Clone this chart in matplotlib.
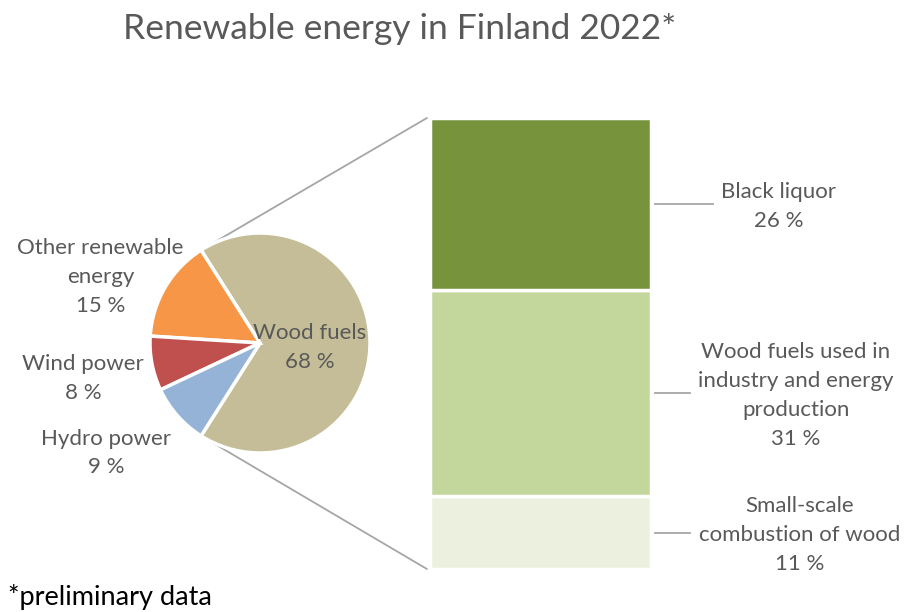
import matplotlib
matplotlib.use("Agg")
import matplotlib.pyplot as plt
import numpy as np
from matplotlib.patches import ConnectionPatch

# Shares of renewable energy sources, 2022 (%)
pie_labels = ["Wood fuels", "Other renewable\nenergy", "Wind power", "Hydro power"]
pie_values = [68, 15, 8, 9]
pie_colors = ["#C4BD97", "#F79646", "#C0504D", "#95B3D7"]

# Breakdown of wood fuels, bottom to top (%)
wood_labels = ["Small-scale\ncombustion of wood",
               "Wood fuels used in\nindustry and energy\nproduction",
               "Black liquor"]
wood_values = [11, 31, 26]
wood_colors = ["#EBF1DE", "#C3D69B", "#77933C"]

title = "Renewable energy in Finland 2022*"
footnote = "*preliminary data"

plt.rcParams["font.family"] = ["Lato", "DejaVu Sans"]
text_gray = "#595959"
line_gray = "#A6A6A6"

W, H = 905, 612
fig = plt.figure(figsize=(W / 100, H / 100), dpi=100)


def px_axes(x0, y0, x1, y1):
    # axes placed by pixel box (top-left origin)
    return fig.add_axes([x0 / W, 1 - y1 / H, (x1 - x0) / W, (y1 - y0) / H])


# Pie
ax_pie = px_axes(150, 233, 370, 453)
half = pie_values[0] / 100 * 360 / 2
wedges, _ = ax_pie.pie(pie_values, colors=pie_colors, startangle=-half,
                       counterclock=True,
                       wedgeprops=dict(edgecolor="white", linewidth=2.5))
ax_pie.set_xlim(-1, 1)
ax_pie.set_ylim(-1, 1)

label_pos = [(0.45, -0.04), (-1.45, 0.60), (-1.61, -0.32), (-1.40, -1.00)]
for name, val, (lx, ly) in zip(pie_labels, pie_values, label_pos):
    ax_pie.text(lx, ly, f"{name}\n{val} %", ha="center", va="center",
                fontsize=16, color=text_gray, linespacing=1.55)

# Stacked bar of wood fuels
ax_bar = px_axes(430, 118, 651, 569)
bottom = 0
bar_label_x = [1.174, 1.156, 1.079]
leader_end = [0.676, 0.676, 0.78]
for name, val, col, tx, lend in zip(wood_labels, wood_values, wood_colors,
                                    bar_label_x, leader_end):
    ax_bar.bar(0, val, width=1, bottom=bottom, color=col,
               edgecolor="white", linewidth=2.5)
    mid = bottom + val / 2
    ax_bar.plot([0.518, lend], [mid, mid], color=line_gray, lw=1.3,
                clip_on=False)
    ax_bar.text(tx, mid - 0.35, f"{name}\n{val} %", ha="center", va="center",
                fontsize=16, color=text_gray, linespacing=1.55)
    bottom += val
ax_bar.set_xlim(-0.5, 0.5)
ax_bar.set_ylim(0, sum(wood_values))
ax_bar.axis("off")

# Lines joining the wood fuels slice to the bar
theta1, theta2 = wedges[0].theta1, wedges[0].theta2
r = wedges[0].r
for theta, ybar in ((theta2, sum(wood_values)), (theta1, 0)):
    x = r * np.cos(np.radians(theta))
    y = r * np.sin(np.radians(theta))
    con = ConnectionPatch(xyA=(-0.514, ybar), coordsA=ax_bar.transData,
                          xyB=(x, y), coordsB=ax_pie.transData,
                          color=line_gray, linewidth=1.3)
    con.set_zorder(0)
    fig.add_artist(con)

fig.text(400 / W, 1 - 29 / H, title, ha="center", va="center",
         fontsize=25.5, color=text_gray)
fig.text(8 / W, 1 - 597 / H, footnote, ha="left", va="center",
         fontsize=19.5, color="black")

fig.savefig("out.png", dpi=100)
